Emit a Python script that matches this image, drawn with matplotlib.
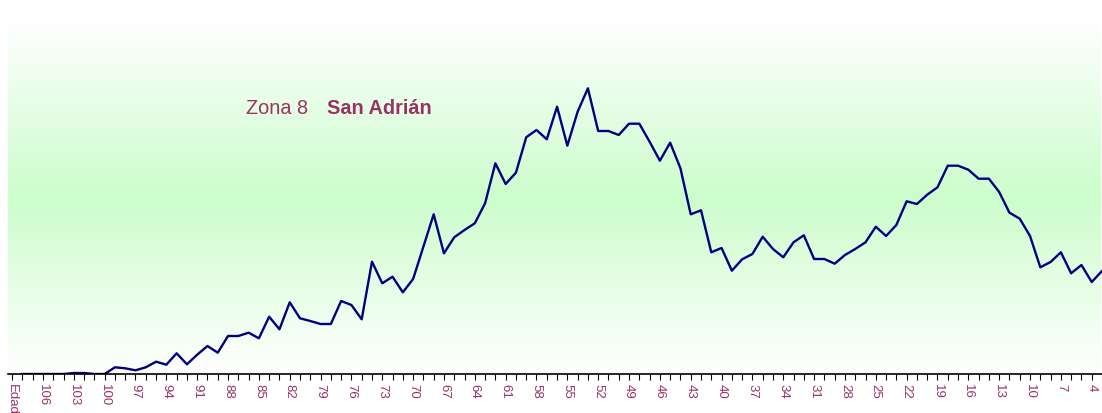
import numpy as np
import matplotlib.pyplot as plt
from matplotlib.colors import LinearSegmentedColormap

# ages from 108 down to 3, first slot is the "Edad" label
ages = list(range(108, 2, -1))
values = [0, 0, 0, 0, 0, 1, 1, 0, 0,              # 108-100
          6.7, 5.7, 3.7, 6.7, 12.3, 9.3, 20.7, 9.7, 19.3, 28,   # 99-90
          21.3, 38, 38, 41.3, 35.7, 57.3, 44.7, 71.7, 55.7, 53,  # 89-80
          50, 50, 73, 69, 54.7, 112.3, 90.7, 97.3, 81.7, 95,     # 79-70
          127.3, 159.7, 120.7, 136.7, 144, 150.7, 170.7, 210.7, 190, 201.3,  # 69-60
          236.7, 244, 234.7, 267.3, 228.3, 262.3, 285.7, 243, 243, 239,      # 59-50
          250.3, 250.3, 232.3, 213.3, 231.3, 205.7, 159.7, 163.7, 121.7, 126,  # 49-40
          103.3, 114.7, 120, 137.3, 125, 116.7, 131.7, 138.7, 115, 115,      # 39-30
          110.3, 119, 125, 131.7, 147.3, 138, 149, 172.7, 170, 179.3,        # 29-20
          186.7, 208.3, 208.3, 204.3, 195.3, 195.3, 182, 161.3, 155.3, 138,  # 19-10
          106.7, 112, 121.7, 100.7, 109, 92, 103]                            # 9-3
tick_labels = ['Edad'] + [str(a) for a in ages]

label_col = '#993366'

fig = plt.figure(figsize=(11.02, 4.13), dpi=100)
ax = fig.add_axes([8 / 1102, 39 / 413, 1 - 8 / 1102, 354 / 413])

# vertical white-green-white background
cmap = LinearSegmentedColormap.from_list('bg', ['#ffffff', '#ccfdcc', '#ffffff'])
grad = np.linspace(0, 1, 256).reshape(-1, 1)
ax.imshow(grad, aspect='auto', cmap=cmap, extent=[-0.4, 105.83, 0, 354], zorder=0)

x = np.arange(1, len(ages) + 1)
ax.plot(x, values, color='#000080', lw=1.7, zorder=2, clip_on=True)

ax.set_xlim(-0.4, 105.83)
ax.set_ylim(0, 354)

for s in ['top', 'right', 'left']:
    ax.spines[s].set_visible(False)
ax.spines['bottom'].set_color('black')
ax.spines['bottom'].set_linewidth(1.2)
ax.spines['bottom'].set_zorder(3)
ax.set_yticks([])

ax.set_xticks(np.arange(0, len(ages) + 1), minor=True)
ax.set_xticks(np.arange(0, len(ages) + 1, 3))
ax.set_xticklabels(tick_labels[::3], rotation=-90, va='top', ha='center',
                   color=label_col, fontsize=9.5, fontfamily='Liberation Sans')
ax.tick_params(axis='x', which='both', direction='out', length=4, width=0.8,
               color='black', pad=3)

fig.text(246 / 1102, 1 - 109 / 413, 'Zona 8', color=label_col, fontsize=14.3,
         va='center', ha='left', fontfamily='Liberation Sans')
fig.text(327 / 1102, 1 - 109 / 413, 'San Adrián', color=label_col, fontsize=14.3,
         fontweight='bold', va='center', ha='left', fontfamily='Liberation Sans')

fig.savefig('out.png', dpi=100)
